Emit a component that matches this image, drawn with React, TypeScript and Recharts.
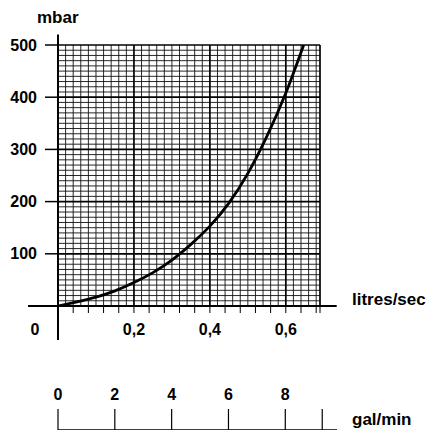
import React from 'react';
import { LineChart, Line, XAxis, YAxis, ReferenceLine } from 'recharts';

// Flow (litres/sec) vs pressure drop (mbar)
const flowLs = [0, 0.05, 0.1, 0.15, 0.2, 0.25, 0.3, 0.35, 0.4, 0.45, 0.5, 0.55, 0.6, 0.647];
const pressureMbar = [0, 8, 17, 29, 45, 64, 88, 118, 153, 197, 254, 325, 408, 500];

const xTicks = [0, 0.04, 0.08, 0.12, 0.16, 0.2, 0.24, 0.28, 0.32, 0.36, 0.4, 0.44, 0.48, 0.52, 0.56, 0.6, 0.64, 0.68, 0.69];
const xLabelValues = [0, 0.2, 0.4, 0.6];
const xLabelTexts = ['0', '0,2', '0,4', '0,6'];
const yTicks = [100, 200, 300, 400, 500];

const galTicks = [0, 2, 4, 6, 8, 9.3];
const galLabels = ['0', '2', '4', '6', '8', ''];

const X_MAX = 0.69;
const Y_MAX = 500;

const rows = flowLs.map((q, i) => ({ q, p: pressureMbar[i] }));
const galRows = galTicks.map((g) => ({ g }));

// graph-paper grid
const minorV = Array.from({ length: 34 }, (_, i) => Math.round((i + 1) * 2) / 100).filter(
  (v) => ![0.2, 0.4, 0.6].includes(v)
);
const majorV = [0.2, 0.4, 0.6, 0.69];
const minorH = Array.from({ length: 49 }, (_, i) => (i + 1) * 10).filter((v) => v % 100 !== 0);
const majorH = [100, 200, 300, 400, 500];

const FONT = '"Liberation Sans", Arial, Helvetica, sans-serif';

const XTick = (props: any) => {
  const { x, y, payload } = props;
  const idx = xLabelValues.findIndex((v) => Math.abs(v - payload.value) < 1e-9);
  if (idx < 0) return null;
  const dx = payload.value === 0 ? -23 : 0;
  return (
    <text x={x + dx} y={y} dy={20} textAnchor="middle" fill="#000" fontSize={16} fontWeight="bold" fontFamily={FONT}>
      {xLabelTexts[idx]}
    </text>
  );
};

const GalTick = (props: any) => {
  const { x, y, payload } = props;
  const idx = galTicks.findIndex((v) => Math.abs(v - payload.value) < 1e-9);
  const label = idx >= 0 ? galLabels[idx] : '';
  if (!label) return null;
  return (
    <text x={x} y={y} dy={-5} textAnchor="middle" fill="#000" fontSize={16} fontWeight="bold" fontFamily={FONT}>
      {label}
    </text>
  );
};

export default function App() {
  return (
    <div style={{ position: 'absolute', left: 0, top: 0, width: 433, height: 430, background: '#fff' }}>
      <div style={{ position: 'absolute', left: 0, top: 0 }}>
        <LineChart width={433} height={360} data={rows} margin={{ top: 45, right: 113, left: 0, bottom: 24 }}>
          <XAxis
            dataKey="q"
            type="number"
            domain={[0, X_MAX]}
            ticks={xTicks}
            interval={0}
            height={30}
            axisLine={false}
            tickSize={7}
            tickLine={{ stroke: '#000', strokeWidth: 1 }}
            tick={<XTick />}
            allowDataOverflow
          />
          <YAxis
            type="number"
            domain={[0, Y_MAX]}
            ticks={yTicks}
            interval={0}
            width={58}
            axisLine={false}
            tickSize={13}
            tickMargin={8}
            tickLine={{ stroke: '#000', strokeWidth: 1.5 }}
            tick={{ fill: '#000', fontSize: 16, fontWeight: 'bold', fontFamily: FONT }}
            allowDataOverflow
          />
          {minorH.map((v) => (
            <ReferenceLine key={'mh' + v} y={v} stroke="#111" strokeWidth={0.9} />
          ))}
          {minorV.map((v) => (
            <ReferenceLine key={'mv' + v} x={v} stroke="#111" strokeWidth={0.9} />
          ))}
          {majorH.map((v) => (
            <ReferenceLine key={'Mh' + v} y={v} stroke="#000" strokeWidth={1.7} />
          ))}
          {majorV.map((v) => (
            <ReferenceLine key={'Mv' + v} x={v} stroke="#000" strokeWidth={1.7} />
          ))}
          <ReferenceLine
            segment={[
              { x: -0.079, y: 0 },
              { x: 0.734, y: 0 },
            ]}
            ifOverflow="visible"
            stroke="#000"
            strokeWidth={1.8}
          />
          <ReferenceLine
            segment={[
              { x: 0, y: 520 },
              { x: 0, y: -65 },
            ]}
            ifOverflow="visible"
            stroke="#000"
            strokeWidth={2}
          />
          <Line
            dataKey="p"
            type="natural"
            stroke="#000"
            strokeWidth={2.8}
            dot={false}
            isAnimationActive={false}
          />
        </LineChart>
      </div>
      <div style={{ position: 'absolute', left: 0, top: 360 }}>
        <LineChart width={433} height={70} data={galRows} margin={{ top: 0, right: 96, left: 58, bottom: 0 }}>
          <XAxis
            dataKey="g"
            type="number"
            domain={[0, 9.82]}
            ticks={galTicks}
            interval={0}
            mirror
            height={1}
            tickSize={21}
            tickMargin={4}
            axisLine={{ stroke: '#000', strokeWidth: 1.5 }}
            tickLine={{ stroke: '#000', strokeWidth: 1.2 }}
            tick={<GalTick />}
          />
        </LineChart>
      </div>
      <svg width={433} height={430} style={{ position: 'absolute', left: 0, top: 0, pointerEvents: 'none' }}>
        <text x={37} y={23} fill="#000" fontSize={17} fontWeight="bold" fontFamily={FONT}>
          mbar
        </text>
        <text x={352} y={305} fill="#000" fontSize={17} fontWeight="bold" fontFamily={FONT}>
          litres/sec
        </text>
        <text x={352} y={425} fill="#000" fontSize={17} fontWeight="bold" fontFamily={FONT}>
          gal/min
        </text>
      </svg>
    </div>
  );
}
